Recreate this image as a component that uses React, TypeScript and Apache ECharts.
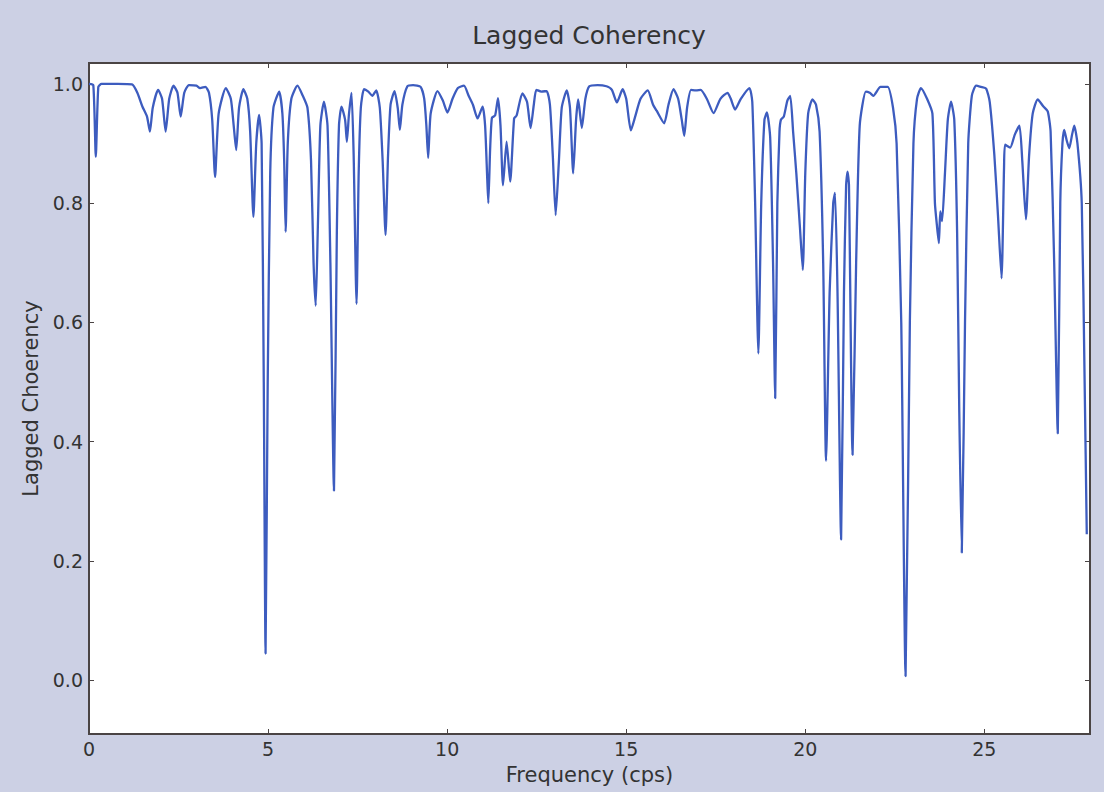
import React, { useEffect, useRef } from "react";
import * as echarts from "echarts";

// Frequency grid (cps) and lagged coherency values of the trace
const freq: number[] = [
  0.0, 0.12, 0.19, 0.26, 0.35, 0.8, 1.2, 1.35, 1.49, 1.62, 1.7, 1.78, 1.93, 2.04, 2.14, 2.24, 2.36, 2.47, 2.56, 2.66,
  2.79, 3.0, 3.1, 3.25, 3.35, 3.44, 3.52, 3.62, 3.82, 3.96, 4.04, 4.11, 4.19, 4.31, 4.42, 4.5, 4.59, 4.67, 4.75, 4.82,
  4.88, 4.93, 4.99, 5.06, 5.15, 5.31, 5.4, 5.45, 5.49, 5.55, 5.65, 5.82, 5.97, 6.1, 6.2, 6.27, 6.33, 6.39, 6.46, 6.56,
  6.66, 6.74, 6.84, 6.92, 6.98, 7.05, 7.15, 7.2, 7.26, 7.33, 7.39, 7.47, 7.53, 7.59, 7.68, 7.8, 7.91, 8.02, 8.12, 8.2,
  8.28, 8.35, 8.42, 8.53, 8.62, 8.68, 8.75, 8.89, 9.05, 9.26, 9.36, 9.42, 9.47, 9.54, 9.73, 9.88, 10.01, 10.15, 10.3, 10.47,
  10.6, 10.72, 10.85, 10.99, 11.06, 11.12, 11.15, 11.2, 11.25, 11.34, 11.42, 11.49, 11.56, 11.66, 11.76, 11.87, 11.94, 12.1, 12.23, 12.33,
  12.42, 12.49, 12.63, 12.78, 12.87, 12.95, 13.03, 13.12, 13.2, 13.34, 13.43, 13.52, 13.6, 13.66, 13.76, 13.86, 13.97, 14.2, 14.45, 14.6,
  14.74, 14.9, 15.0, 15.13, 15.25, 15.4, 15.6, 15.75, 15.85, 16.06, 16.18, 16.32, 16.45, 16.55, 16.62, 16.7, 16.81, 16.95, 17.08, 17.25,
  17.44, 17.63, 17.83, 17.92, 18.04, 18.2, 18.44, 18.52, 18.6, 18.69, 18.77, 18.86, 18.93, 19.02, 19.1, 19.16, 19.22, 19.28, 19.32, 19.4,
  19.5, 19.58, 19.66, 19.75, 19.85, 19.93, 20.0, 20.08, 20.2, 20.3, 20.4, 20.5, 20.58, 20.68, 20.78, 20.83, 20.9, 21.0, 21.08, 21.14,
  21.18, 21.22, 21.32, 21.42, 21.52, 21.69, 21.8, 21.9, 22.1, 22.3, 22.45, 22.55, 22.68, 22.8, 22.92, 23.02, 23.12, 23.23, 23.4, 23.55,
  23.62, 23.68, 23.73, 23.77, 23.82, 23.9, 23.98, 24.07, 24.16, 24.24, 24.3, 24.37, 24.46, 24.55, 24.65, 24.77, 24.9, 25.05, 25.15, 25.28,
  25.38, 25.48, 25.55, 25.58, 25.72, 25.85, 25.98, 26.06, 26.16, 26.25, 26.35, 26.49, 26.65, 26.77, 26.85, 26.95, 27.05, 27.12, 27.18, 27.23,
  27.3, 27.37, 27.45, 27.51, 27.6, 27.72, 27.8, 27.86,
];

const coherency: number[] = [
  1.0, 0.998, 0.878, 0.995, 1.0, 1.0, 0.999, 0.985, 0.962, 0.945, 0.92, 0.96, 0.99, 0.975, 0.92, 0.975, 0.997, 0.985, 0.945, 0.985,
  0.998, 0.997, 0.993, 0.995, 0.985, 0.94, 0.844, 0.95, 0.993, 0.975, 0.93, 0.889, 0.96, 0.991, 0.975, 0.92, 0.777, 0.9, 0.948, 0.9,
  0.5, 0.045, 0.5, 0.85, 0.96, 0.987, 0.95, 0.87, 0.752, 0.9, 0.975, 0.997, 0.98, 0.96, 0.87, 0.7, 0.628, 0.76, 0.93, 0.97,
  0.93, 0.7, 0.318, 0.75, 0.93, 0.962, 0.94, 0.903, 0.95, 0.985, 0.88, 0.631, 0.85, 0.96, 0.991, 0.987, 0.98, 0.989, 0.96, 0.87,
  0.747, 0.88, 0.965, 0.988, 0.96, 0.923, 0.965, 0.996, 0.998, 0.995, 0.975, 0.93, 0.876, 0.95, 0.988, 0.972, 0.952, 0.975, 0.993, 0.997,
  0.98, 0.965, 0.942, 0.962, 0.93, 0.84, 0.8, 0.89, 0.943, 0.947, 0.976, 0.93, 0.83, 0.903, 0.836, 0.942, 0.947, 0.984, 0.97, 0.926,
  0.965, 0.99, 0.987, 0.988, 0.965, 0.88, 0.78, 0.87, 0.96, 0.989, 0.96, 0.85, 0.94, 0.974, 0.926, 0.975, 0.996, 0.998, 0.996, 0.99,
  0.969, 0.991, 0.975, 0.922, 0.945, 0.975, 0.989, 0.965, 0.955, 0.934, 0.965, 0.991, 0.975, 0.94, 0.913, 0.96, 0.99, 0.989, 0.99, 0.975,
  0.951, 0.975, 0.985, 0.975, 0.957, 0.975, 0.993, 0.97, 0.8, 0.548, 0.8, 0.94, 0.952, 0.91, 0.7, 0.473, 0.8, 0.92, 0.94, 0.945,
  0.972, 0.98, 0.92, 0.85, 0.76, 0.688, 0.85, 0.95, 0.974, 0.965, 0.92, 0.7, 0.368, 0.65, 0.8, 0.817, 0.65, 0.236, 0.65, 0.83,
  0.853, 0.83, 0.378, 0.7, 0.93, 0.987, 0.985, 0.98, 0.995, 0.995, 0.96, 0.9, 0.6, 0.007, 0.6, 0.9, 0.975, 0.993, 0.975, 0.95,
  0.8, 0.76, 0.733, 0.786, 0.77, 0.85, 0.94, 0.97, 0.94, 0.75, 0.45, 0.214, 0.6, 0.9, 0.98, 0.997, 0.995, 0.992, 0.97, 0.88,
  0.78, 0.674, 0.86, 0.898, 0.893, 0.915, 0.93, 0.87, 0.773, 0.88, 0.95, 0.974, 0.962, 0.954, 0.92, 0.7, 0.414, 0.8, 0.9, 0.923,
  0.905, 0.892, 0.915, 0.93, 0.9, 0.8, 0.5, 0.245,
];

const xTicks: number[] = [0, 5, 10, 15, 20, 25];
const yTicks: number[] = [0.0, 0.2, 0.4, 0.6, 0.8, 1.0];

const FONT = "DejaVu Sans";
const TEXT = "#333333";
const FRAME = "#4a4444";

export default function App() {
  const ref = useRef<HTMLDivElement>(null);

  useEffect(() => {
    if (!ref.current) return;
    const chart = echarts.init(ref.current, undefined, { renderer: "svg" });
    const points = freq.map((f, i) => [f, coherency[i]]);

    const tickStyle = { inside: true, length: 5, lineStyle: { color: FRAME, width: 1 } };
    const hiddenLine = { show: false, onZero: false };

    chart.setOption({
      animation: false,
      backgroundColor: "#ccd0e4",
      grid: {
        left: 89,
        right: 14,
        top: 63,
        bottom: 58,
        show: true,
        backgroundColor: "#ffffff",
        borderColor: FRAME,
        borderWidth: 2,
      },
      graphic: [
        {
          type: "text",
          x: 589,
          y: 35,
          style: {
            text: "Lagged Coherency",
            fontFamily: FONT,
            fontSize: 25,
            fill: TEXT,
            align: "center",
            verticalAlign: "middle",
          },
        },
      ],
      xAxis: [
        {
          type: "value",
          min: 0,
          max: 27.95,
          position: "bottom",
          axisLine: hiddenLine,
          splitLine: { show: false },
          axisTick: { ...tickStyle, customValues: xTicks },
          axisLabel: {
            customValues: xTicks,
            fontFamily: FONT,
            fontSize: 19,
            color: TEXT,
            margin: 5,
          },
          name: "Frequency (cps)",
          nameLocation: "middle",
          nameGap: 30,
          nameTextStyle: { fontFamily: FONT, fontSize: 21, color: TEXT },
        },
        {
          type: "value",
          min: 0,
          max: 27.95,
          position: "top",
          axisLine: hiddenLine,
          splitLine: { show: false },
          axisTick: { ...tickStyle, customValues: xTicks },
          axisLabel: { show: false, customValues: xTicks },
        },
      ],
      yAxis: [
        {
          type: "value",
          min: -0.09,
          max: 1.035,
          position: "left",
          axisLine: hiddenLine,
          splitLine: { show: false },
          axisTick: { ...tickStyle, customValues: yTicks },
          axisLabel: {
            customValues: yTicks,
            formatter: (v: number) => v.toFixed(1),
            fontFamily: FONT,
            fontSize: 19,
            color: TEXT,
            margin: 6,
          },
          name: "Lagged Choerency",
          nameLocation: "middle",
          nameGap: 48,
          nameRotate: 90,
          nameTextStyle: { fontFamily: FONT, fontSize: 21, color: TEXT },
        },
        {
          type: "value",
          min: -0.09,
          max: 1.035,
          position: "right",
          axisLine: hiddenLine,
          splitLine: { show: false },
          axisTick: { ...tickStyle, customValues: yTicks },
          axisLabel: { show: false, customValues: yTicks },
        },
      ],
      series: [
        {
          type: "line",
          xAxisIndex: 0,
          yAxisIndex: 0,
          data: points,
          showSymbol: false,
          smooth: 0.2,
          lineStyle: { color: "#3d5cbf", width: 2.3 },
          clip: true,
        },
      ],
    });

    return () => chart.dispose();
  }, []);

  return (
    <div
      ref={ref}
      style={{ position: "absolute", left: 0, top: 0, width: 1104, height: 792 }}
    />
  );
}
